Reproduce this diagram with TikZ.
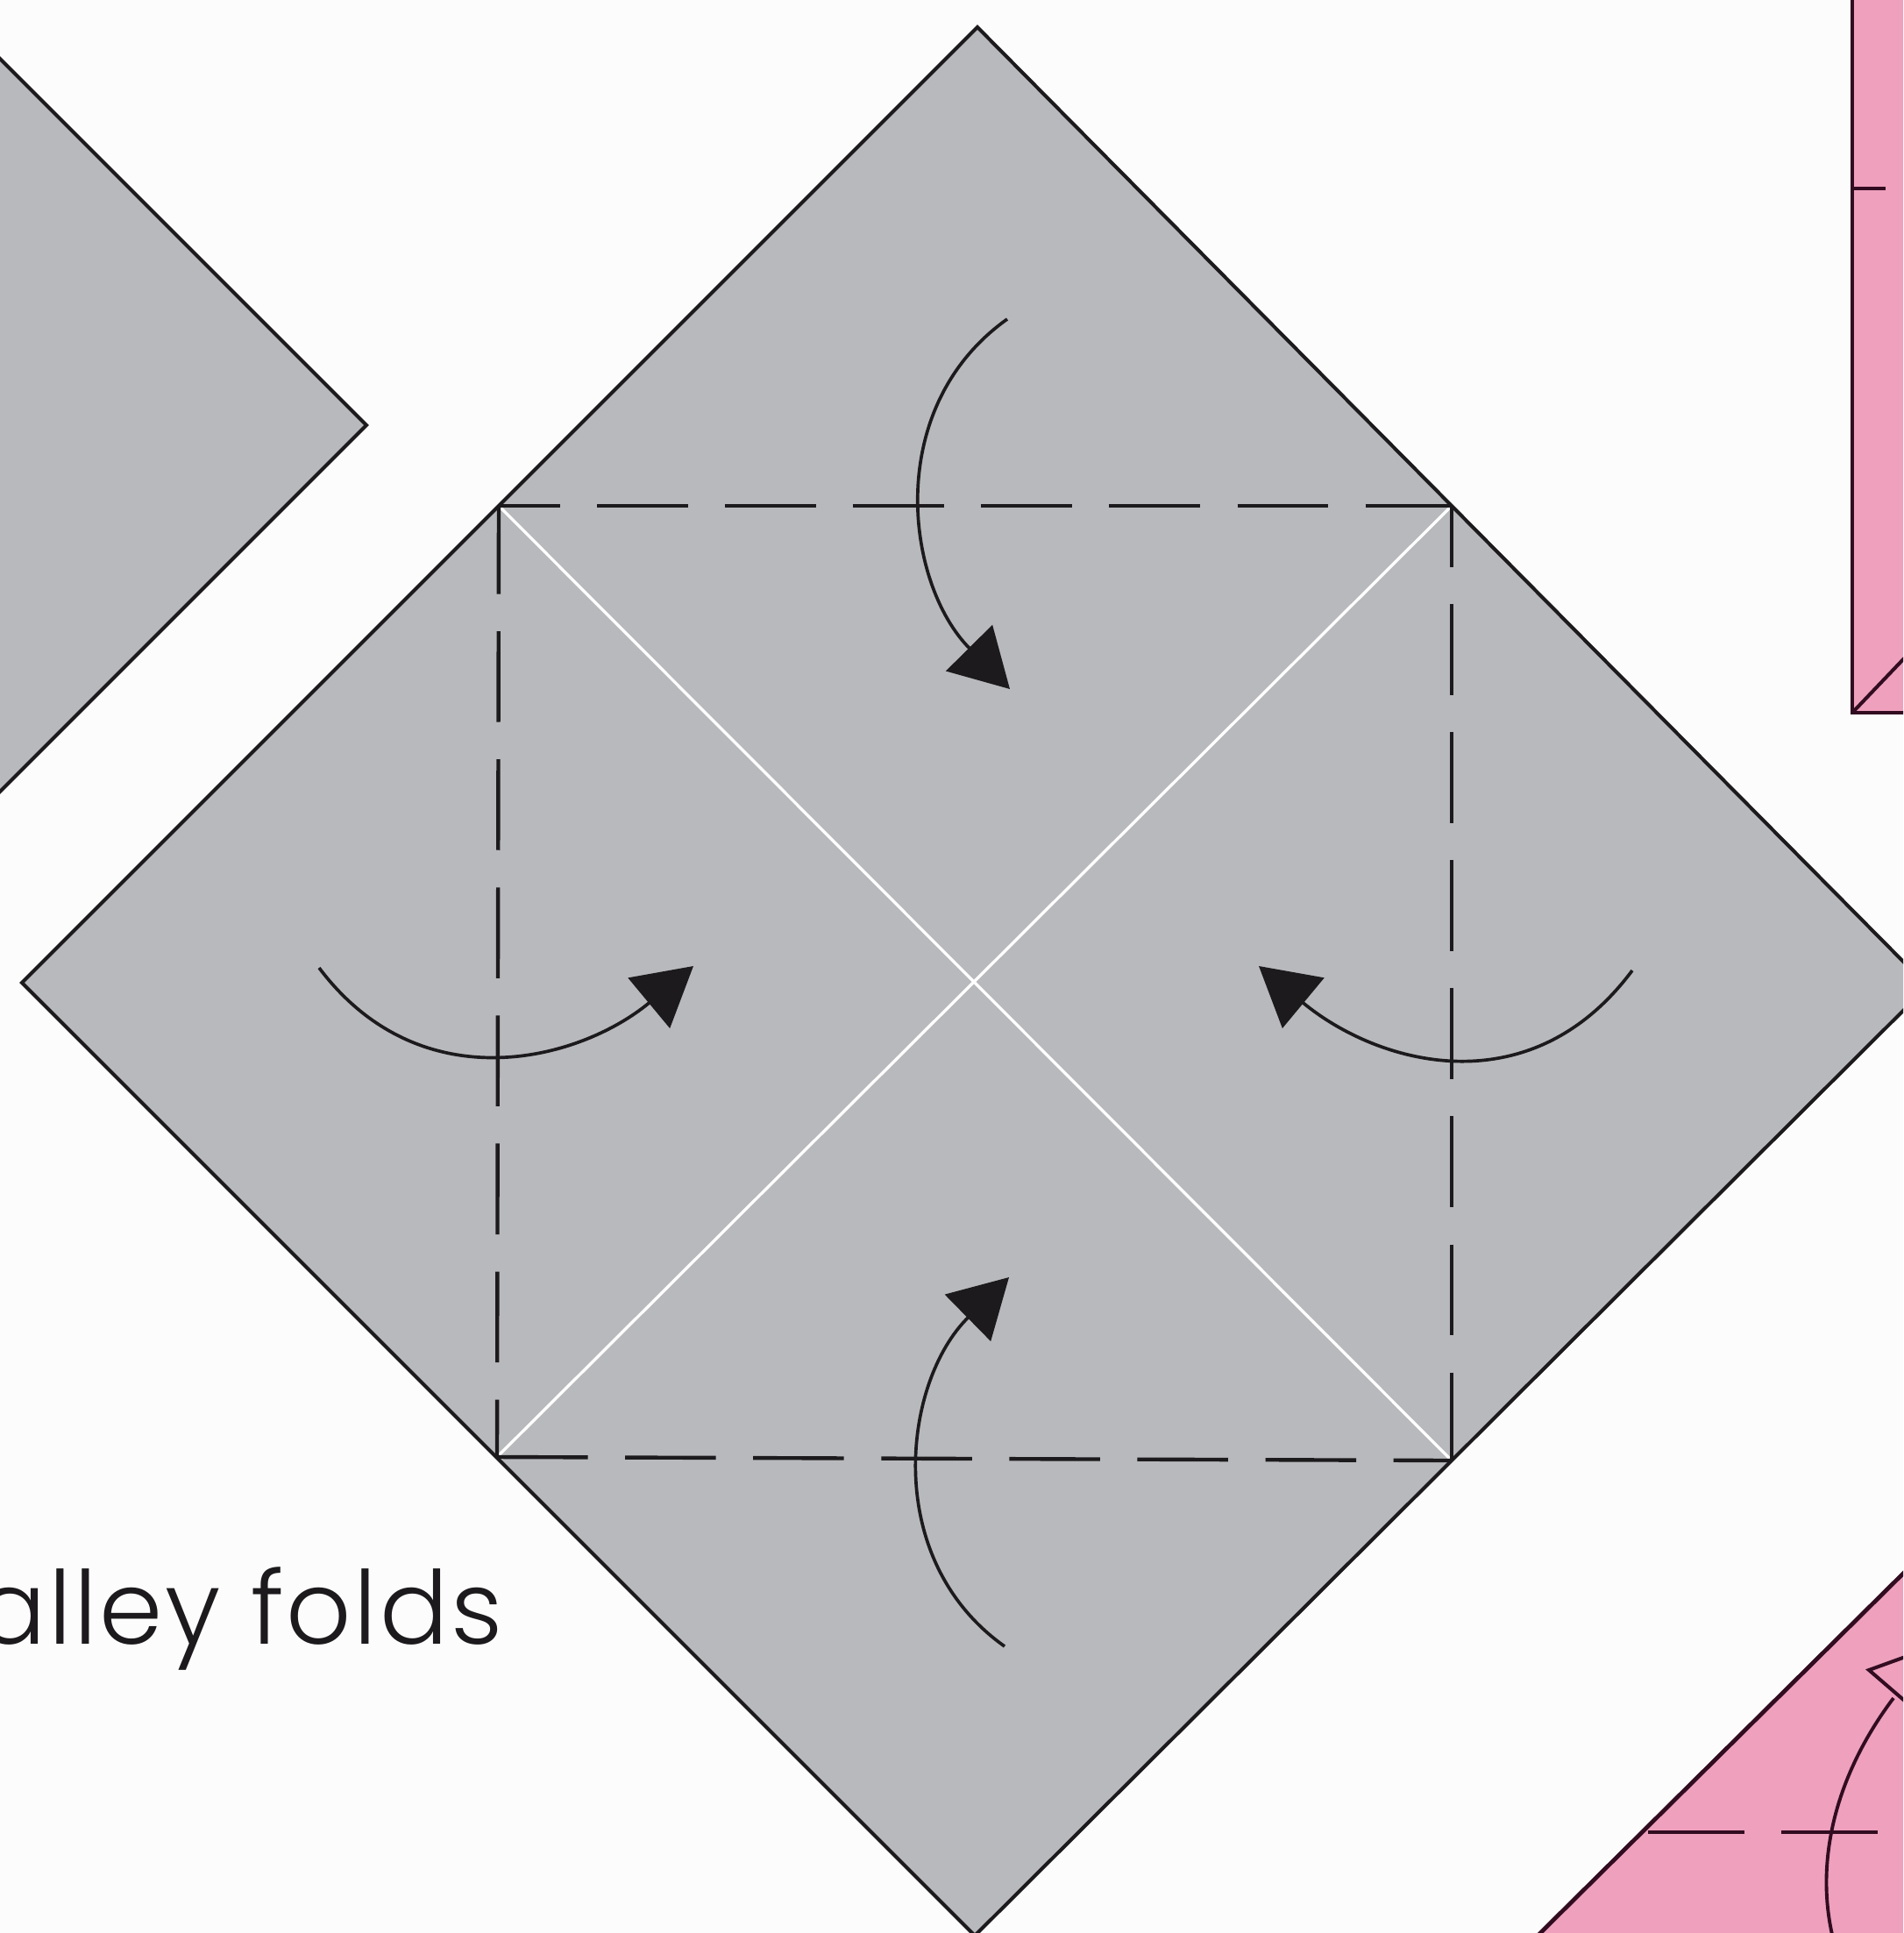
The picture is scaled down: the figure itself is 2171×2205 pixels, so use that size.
\documentclass[tikz,border=0pt]{standalone}
\usepackage{fontspec}
\setmainfont{Poppins}[UprightFont=* Light, LetterSpace=2.3]
\usepackage{tikz}
\usetikzlibrary{arrows.meta}
\definecolor{greypaper}{RGB}{184,185,188}
\definecolor{pinkpaper}{RGB}{238,160,188}
\definecolor{inkline}{RGB}{28,26,28}
\definecolor{pinkline}{RGB}{50,12,32}
\tikzset{
  greysheet/.style={draw=inkline, line width=1.15pt, fill=greypaper, line join=miter},
  pinksheet/.style={draw=pinkline, line width=1.35pt, fill=pinkpaper, line join=miter},
  crease/.style={draw=white, line width=0.95pt},
  valley/.style={draw=inkline, line width=1.25pt, dash pattern=on 1.035cm off 0.425cm},
  turn/.style={draw=inkline, line width=1.05pt, -{Triangle[length=0.66cm, width=0.74cm]}},
  pinkvalley/.style={draw=pinkline, line width=1.15pt, dash pattern=on 1.10cm off 0.42cm}
}
\begin{document}
\begin{tikzpicture}[x=0.01cm, y=-0.01cm]
  \clip (0,0) rectangle (2171,2205);
  \fill[white!99!black] (0,0) rectangle (2171,2205);

  % Corners of the big square and of the folded inner square
  \coordinate (top) at (1115,31);
  \coordinate (left) at (25,1121);
  \coordinate (right) at (2199,1125);
  \coordinate (bottom) at (1112,2208);
  \coordinate (tl) at (569,577);
  \coordinate (tr) at (1656,577);
  \coordinate (bl) at (567,1662);
  \coordinate (br) at (1656,1666);

  % Neighbouring sheets, cut by the page
  \draw[greysheet] (-20,47) -- (418,485) -- (-20,923);
  \draw[pinksheet] (2113,-20) -- (2113,813) -- (2190,813) -- (2190,-20);
  \draw[pinksheet, line width=1.15pt] (2113,813) -- (2175,748);
  \draw[pinkline, line width=1.15pt] (2113,215) -- (2151,215);
  \draw[pinksheet] (1747,2215) -- (2181,1785) -- (2190,2215) -- cycle;

  % Main sheet
  \draw[greysheet] (top) -- (right) -- (bottom) -- (left) -- cycle;
  \draw[crease] (tl) -- (br);
  \draw[crease] (tr) -- (bl);
  \draw[valley, dash phase=0.34cm] (tl) -- (tr);
  \draw[valley] (bl) -- (br);
  \draw[valley, dash phase=0.03cm] (tl) -- (bl);
  \draw[valley, dash phase=0.34cm] (tr) -- (br);

  % Four turning arrows
  \coordinate (topS) at (1149,364);
  \coordinate (topT) at (1152,786);
  \coordinate (botS) at (1146,1878);
  \coordinate (botT) at (1151,1457);
  \coordinate (lftS) at (364,1104);
  \coordinate (lftT) at (791,1102);
  \coordinate (rgtS) at (1862,1107);
  \coordinate (rgtT) at (1436,1102);
  \draw[turn] (topS) .. controls (1007,465) and (1033,666) .. (topT);
  \draw[turn] (botS) .. controls (1005,1778) and (1030,1576) .. (botT);
  \draw[turn] (lftS) .. controls (480,1258) and (661,1210) .. (lftT);
  \draw[turn] (rgtS) .. controls (1745,1264) and (1571,1214) .. (rgtT);

  % Pink corner: fold line, arc and open head
  \coordinate (pinkA) at (1880,2090);
  \coordinate (pinkB) at (2142,2090);
  \draw[pinkvalley] (pinkA) -- (pinkB);
  \draw[pinksheet, line width=1.15pt] (2132,1905) -- (2190,1884) -- (2190,1955) -- cycle;
  \draw[pinkline, line width=1.1pt] (2092,2215) .. controls (2070,2130) and (2090,2030) .. (2160,1937);

  \node[anchor=base east, inner sep=0pt, text=inkline, font=\fontsize{33}{33}\selectfont] (caption) at (574,1875) {alley folds};
\end{tikzpicture}
\end{document}
